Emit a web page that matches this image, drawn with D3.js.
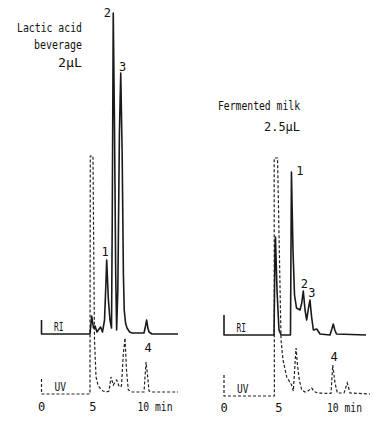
<!DOCTYPE html>
<html><head><meta charset="utf-8">
<script src="https://cdn.jsdelivr.net/npm/d3@7"></script>
<style>
html,body{margin:0;padding:0;background:#fff;}
svg{display:block;}
text{font-family:"DejaVu Sans Mono","Liberation Mono",monospace;fill:#111;}
</style></head>
<body>
<svg id="c" width="380" height="422"></svg>
<script>
// ---- data (time in min, detector response in arbitrary units) ----
const tickValues = [0, 5, 10];
const tickLabels = ["0", "5", "10 min"];

const lacticTitle = ["Lactic acid", "beverage", "2\u03bcL"];
const fermentedTitle = ["Fermented milk", "2.5\u03bcL"];

const lacticRI = [[0,14],[0,0],[4.73,0],[4.9,18],[5.07,6],[5.22,8],[5.41,2],[5.76,7],[5.95,2],
  [6.15,14],[6.3,55],[6.36,74],[6.44,55],[6.52,35],[6.68,14],[6.83,6],[6.9,110],[7.0,321],
  [7.12,210],[7.24,60],[7.33,4],[7.45,45],[7.6,200],[7.73,261],[7.87,180],[7.99,60],[8.07,24],
  [8.2,11],[8.34,6],[8.6,2],[8.83,1],[10.0,1],[10.15,8],[10.26,14],[10.38,6],[10.49,2],[10.78,0],[13.32,0]];
const lacticUV = [[0,15],[0,0],[4.73,0],[4.76,238],[5.02,238],[5.17,54],[5.32,17],[5.51,9],[5.71,6],
  [6.0,3],[6.29,2],[6.59,3],[6.78,17],[7.0,9],[7.34,14],[7.59,7],[7.8,8],[7.98,40],[8.15,56],
  [8.29,24],[8.47,4],[8.83,2],[10.0,2],[10.2,32],[10.34,19],[10.49,3],[10.78,2],[13.32,2]];
const fermentedRI = [[0,20],[0,0],[4.57,0],[4.66,90],[4.7,98],[4.84,45],[5.02,5],[5.21,0],[6.07,0],
  [6.16,163],[6.3,85],[6.44,40],[6.62,27],[6.94,25],[7.1,32],[7.24,44],[7.4,25],[7.55,15],[7.7,26],
  [7.85,35],[8.0,18],[8.16,5],[8.47,6],[8.77,1],[9.68,0],[9.85,6],[9.98,11],[10.12,5],[10.27,1],[12.97,0]];
const fermentedUV = [[0,21],[0,0],[4.6,0],[4.58,238],[4.89,238],[5.21,56],[5.39,36],[5.73,19],[6.18,11],
  [6.33,5],[6.5,35],[6.58,48],[6.71,31],[6.88,16],[7.1,6],[7.4,4],[7.67,5],[8.01,8],[8.22,4.5],[8.58,3],
  [9.77,2.5],[9.93,31],[10.14,13],[10.35,3],[10.96,3],[11.26,13],[11.51,3],[13.33,2]];

const lacticPeaks = [["2",7.0,"RI",321],["3",7.73,"RI",261],["1",6.36,"RI",74],["4",10.2,"UV",32]];
const fermentedPeaks = [["1",6.16,"RI",163],["2",7.24,"RI",44],["3",7.85,"RI",35],["4",9.93,"UV",31]];

// ---- drawing ----
const svg = d3.select("#c");

function panel(cfg){
  const g = svg.append("g");
  const x = d3.scaleLinear().domain([0,10]).range(cfg.xr);
  const yRI = d3.scaleLinear().domain(cfg.riDom).range(cfg.riRange);
  const yUV = d3.scaleLinear().domain(cfg.uvDom).range(cfg.uvRange);
  const line = (ys) => d3.line().x(d=>x(d[0])).y(d=>ys(d[1])).curve(d3.curveLinear);

  g.append("path").datum(cfg.uv).attr("d", line(yUV))
    .attr("fill","none").attr("stroke","#222").attr("stroke-width",1.2)
    .attr("stroke-dasharray","3,2");
  g.append("path").datum(cfg.ri).attr("d", line(yRI))
    .attr("fill","none").attr("stroke","#1a1a1a").attr("stroke-width",1.6)
    .attr("stroke-linejoin","round");

  // trace labels
  g.append("text").attr("x", x(0)+12.5).attr("y", yRI(0)-3).attr("font-size",12)
    .attr("textLength",9.5).attr("lengthAdjust","spacingAndGlyphs").text("RI");
  g.append("text").attr("x", x(0)+13).attr("y", yUV(0)-3.5).attr("font-size",12)
    .attr("textLength",11.5).attr("lengthAdjust","spacingAndGlyphs").text("UV");

  // peak labels
  cfg.peaks.forEach(p=>{
    const ys = p[2]==="RI" ? yRI : yUV;
    g.append("text").attr("x", x(p[1])+cfg.pdx[p[0]][0]).attr("y", ys(p[3])+cfg.pdx[p[0]][1])
      .attr("font-size",12).attr("text-anchor","middle").text(p[0]);
  });

  // axis tick labels
  tickValues.forEach((v,i)=>{
    const t = g.append("text").attr("y", cfg.axisY).attr("font-size",12).text(tickLabels[i]);
    if (tickLabels[i].length>1){
      t.attr("x", x(v)-6.5).attr("textLength",35).attr("lengthAdjust","spacingAndGlyphs");
    } else {
      t.attr("x", x(v)).attr("text-anchor","middle");
    }
  });

  // title
  cfg.title.forEach((s,i)=>{
    g.append("text").attr("x", cfg.titleX).attr("y", cfg.titleY[i]).attr("font-size",12)
      .attr("text-anchor","end").attr("textLength",cfg.titleW[i]).attr("lengthAdjust","spacingAndGlyphs")
      .text(s);
  });
}

panel({
  xr:[41.5,144], riDom:[0,320], riRange:[334,14], uvDom:[0,238], uvRange:[394,156],
  ri:lacticRI, uv:lacticUV, peaks:lacticPeaks,
  pdx:{"2":[-6,4],"3":[2,-2],"1":[-1.5,-4],"4":[2,-10]},
  axisY:411, title:lacticTitle, titleX:82, titleY:[32,49,67], titleW:[65,48,24]
});
panel({
  xr:[224,333.5], riDom:[0,163], riRange:[335,172], uvDom:[0,238], uvRange:[396,158],
  ri:fermentedRI, uv:fermentedUV, peaks:fermentedPeaks,
  pdx:{"1":[8.5,2.5],"2":[1,-3],"3":[2,-3],"4":[1.5,-4]},
  axisY:412, title:fermentedTitle, titleX:300, titleY:[109.5,131], titleW:[82,36]
});
</script>
</body></html>
